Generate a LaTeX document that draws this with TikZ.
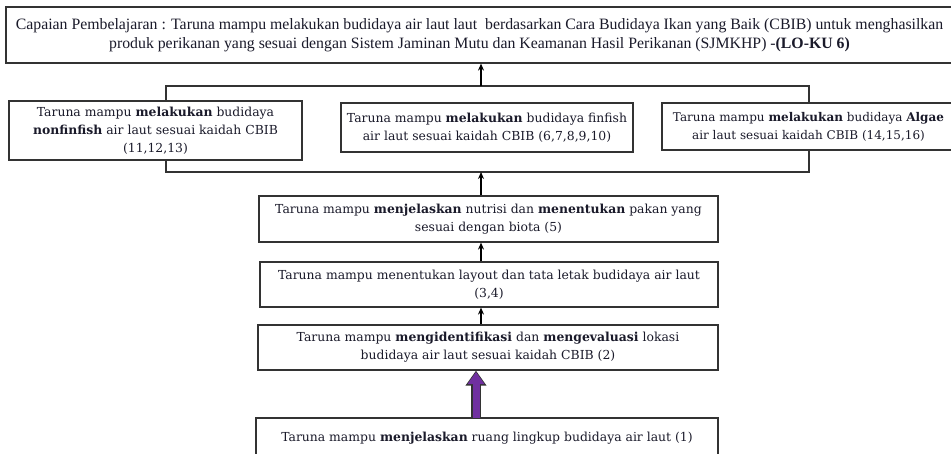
\documentclass[tikz,border=0pt]{standalone}
\usepackage{fontspec}
\setmainfont{DejaVu Serif}
\newfontfamily\topfont{Liberation Serif}
\usetikzlibrary{arrows.meta}
\definecolor{boxline}{HTML}{333333}
\definecolor{arrpurple}{HTML}{7030A0}
\definecolor{txt}{HTML}{1A1A2A}
\tikzset{
  box/.style={draw=boxline, line width=1.2pt, fill=white, inner sep=0pt, align=center,
    text=txt, font=\fontsize{12.4}{18}\selectfont},
  topbox/.style={box, font=\topfont\fontsize{15.8}{19}\selectfont},
  bracketline/.style={draw=boxline, line width=1.2pt},
  conn/.style={draw=black, line width=1.6pt, -{Stealth[length=7pt,width=6pt]}},
  fatout/.style={draw=boxline, line width=9.5pt, -{Triangle[length=15pt,width=20pt]}},
  fatin/.style={draw=arrpurple, line width=7pt, shorten >=1.4pt, -{Triangle[length=12pt,width=16pt]}}
}
\begin{document}
\begin{tikzpicture}[x=1pt,y=-1pt]
\useasboundingbox (0,0) rectangle (951,453);
\clip (0,0) rectangle (951,453);
% bracket behind the three boxes
\coordinate (brt) at (481,86);
\coordinate (brb) at (481,172);
\coordinate (ax) at (481,0);
\coordinate (px) at (476,0);
\draw[bracketline] (166,86) rectangle (809,172);
% top box
\node[topbox, minimum width=947pt, minimum height=56pt] (top) at (479.5,35)
  {Capaian Pembelajaran : Taruna mampu melakukan budidaya air laut laut\ \ berdasarkan Cara Budidaya Ikan yang Baik (CBIB) untuk menghasilkan\\
   produk perikanan yang sesuai dengan Sistem Jaminan Mutu dan Keamanan Hasil Perikanan (SJMKHP) -\textbf{(LO-KU 6)}};
% three boxes
\node[box, minimum width=293pt, minimum height=59pt] (L) at (155.5,130.5)
  {Taruna mampu \textbf{melakukan} budidaya\\ \textbf{nonfinfish} air laut sesuai kaidah CBIB\\ (11,12,13)};
\node[box, minimum width=292pt, minimum height=49pt] (M) at (487,127.5)
  {Taruna mampu \textbf{melakukan} budidaya finfish\\ air laut sesuai kaidah CBIB (6,7,8,9,10)};
\node[box, minimum width=293pt, minimum height=47pt, font=\fontsize{12}{18}\selectfont] (R) at (808.5,126.5)
  {Taruna mampu \textbf{melakukan} budidaya \textbf{Algae}\\ air laut sesuai kaidah CBIB (14,15,16)};
% vertical chain
\node[box, minimum width=459pt, minimum height=46pt] (b5) at (488.5,219)
  {Taruna mampu \textbf{menjelaskan} nutrisi dan \textbf{menentukan} pakan yang\\ sesuai dengan biota (5)};
\node[box, minimum width=458pt, minimum height=45pt] (b4) at (489,284.5)
  {Taruna mampu menentukan layout dan tata letak budidaya air laut\\ (3,4)};
\node[box, minimum width=460pt, minimum height=45pt] (b3) at (488,347.5)
  {Taruna mampu \textbf{mengidentifikasi} dan \textbf{mengevaluasi} lokasi\\ budidaya air laut sesuai kaidah CBIB (2)};
\node[box, minimum width=462pt, minimum height=40pt] (b1) at (487,438)
  {Taruna mampu \textbf{menjelaskan} ruang lingkup budidaya air laut (1)};
% connectors
\draw[conn] (brt) -- (top.south -| brt);
\draw[conn] (b5.north -| brb) -- (brb);
\draw[conn] (b4.north -| ax) -- (b5.south -| ax);
\draw[conn] (b3.north -| ax) -- (b4.south -| ax);
\draw[fatout] (b1.north -| px) -- (b3.south -| px);
\draw[fatin] ([yshift=-0.6pt]b1.north -| px) -- (b3.south -| px);
\end{tikzpicture}
\end{document}
